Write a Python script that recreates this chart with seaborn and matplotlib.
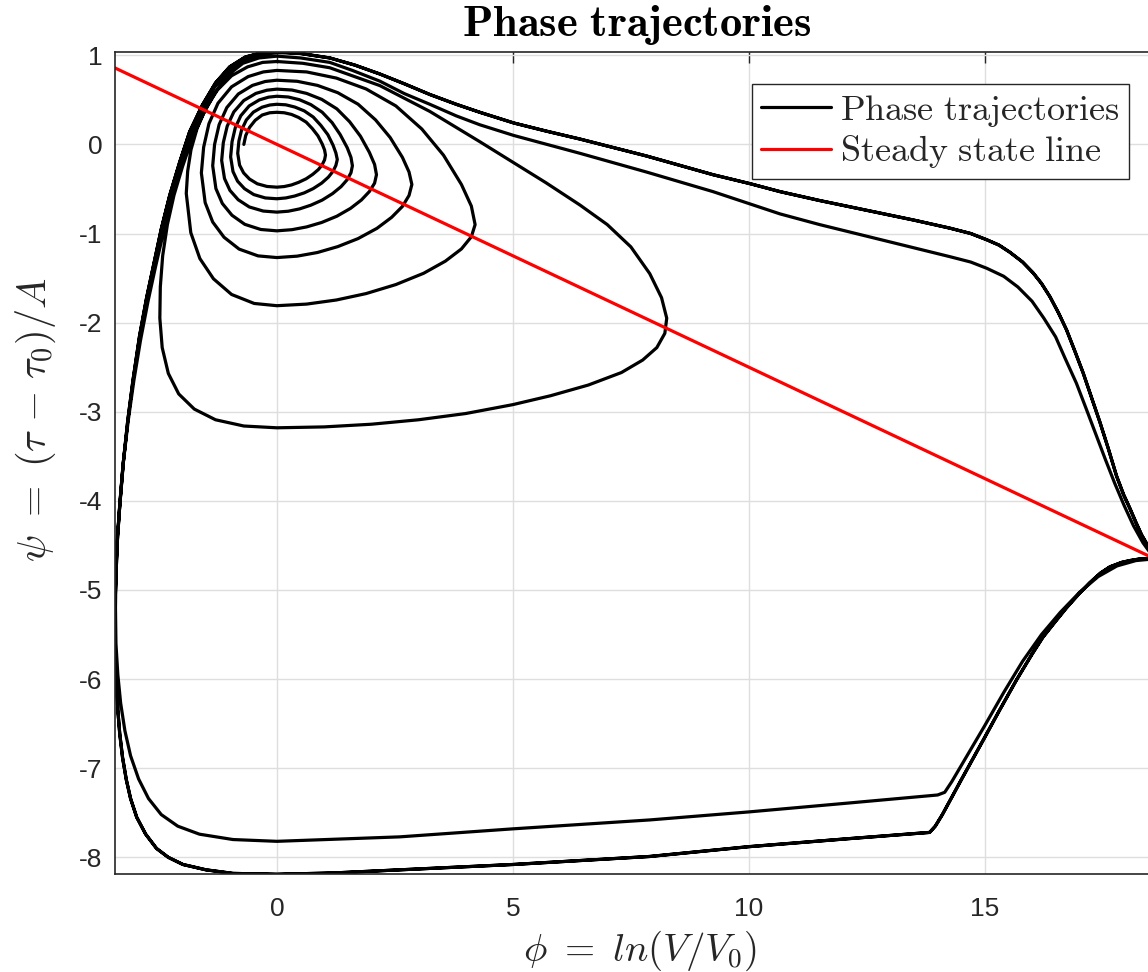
import numpy as np
import pandas as pd
import matplotlib
matplotlib.use("Agg")
import matplotlib.pyplot as plt
import seaborn as sns

# ---------------- data ----------------
# one outward spiral trajectory, listed loop by loop (clockwise)
loop1_phi = [-0.70, -0.66, -0.58, -0.46, -0.31, -0.15, 0.00, 0.155, 0.31, 0.46, 0.62, 0.75, 0.87, 0.96, 1.01, 1.03, 1.01, 0.96, 0.88, 0.76, 0.62, 0.46, 0.31, 0.155, 0.00, -0.21, -0.415, -0.58, -0.705, -0.79, -0.83, -0.805, -0.747, -0.647, -0.498, -0.315, -0.149, 0.00]
loop1_psi = [0.00, 0.10, 0.19, 0.27, 0.33, 0.355, 0.36, 0.355, 0.336, 0.302, 0.25, 0.178, 0.096, 0.005, -0.062, -0.12, -0.174, -0.228, -0.282, -0.336, -0.386, -0.426, -0.455, -0.473, -0.48, -0.472, -0.442, -0.389, -0.32, -0.233, -0.10, 0.0375, 0.164, 0.274, 0.362, 0.417, 0.442, 0.45]

loop2_phi = [0.19, 0.38, 0.58, 0.77, 0.93, 1.08, 1.19, 1.25, 1.28, 1.25, 1.19, 1.09, 0.95, 0.77, 0.58, 0.38, 0.19, 0.00, -0.245, -0.49, -0.686, -0.833, -0.93, -0.98, -0.95, -0.882, -0.764, -0.588, -0.372, -0.176, 0.00]
loop2_psi = [0.444, 0.419, 0.376, 0.307, 0.214, 0.109, -0.009, -0.096, -0.17, -0.236, -0.302, -0.368, -0.434, -0.496, -0.544, -0.579, -0.601, -0.61, -0.601, -0.563, -0.497, -0.413, -0.305, -0.14, 0.03, 0.186, 0.322, 0.431, 0.499, 0.53, 0.54]

loop3_phi = [0.24, 0.48, 0.72, 0.96, 1.17, 1.34, 1.49, 1.57, 1.60, 1.57, 1.49, 1.36, 1.18, 0.96, 0.72, 0.48, 0.24, 0.00, -0.29, -0.585, -0.82, -0.995, -1.11, -1.17, -1.135, -1.053, -0.913, -0.702, -0.445, -0.211, 0.00]
loop3_psi = [0.532, 0.501, 0.446, 0.361, 0.244, 0.111, -0.037, -0.146, -0.24, -0.318, -0.396, -0.474, -0.552, -0.625, -0.682, -0.724, -0.75, -0.76, -0.748, -0.702, -0.621, -0.516, -0.383, -0.18, 0.02, 0.204, 0.364, 0.492, 0.572, 0.608, 0.62]

loop4_phi = [0.32, 0.63, 0.95, 1.27, 1.54, 1.77, 1.96, 2.07, 2.11, 2.07, 1.96, 1.79, 1.56, 1.27, 0.95, 0.63, 0.32, 0.00, -0.34, -0.68, -0.952, -1.156, -1.292, -1.36, -1.32, -1.224, -1.061, -0.816, -0.517, -0.245, 0.00]
loop4_psi = [0.61, 0.572, 0.505, 0.399, 0.255, 0.092, -0.09, -0.225, -0.34, -0.435, -0.529, -0.624, -0.718, -0.806, -0.876, -0.926, -0.957, -0.97, -0.955, -0.897, -0.795, -0.663, -0.496, -0.24, 0.00, 0.221, 0.413, 0.566, 0.662, 0.706, 0.72]

loop5_phi = [0.43, 0.86, 1.29, 1.72, 2.09, 2.40, 2.66, 2.80, 2.86, 2.80, 2.66, 2.43, 2.12, 1.72, 1.29, 0.86, 0.43, 0.00, -0.40, -0.80, -1.12, -1.36, -1.52, -1.60, -1.552, -1.44, -1.248, -0.96, -0.608, -0.288, 0.00]
loop5_psi = [0.708, 0.662, 0.58, 0.451, 0.275, 0.077, -0.146, -0.31, -0.45, -0.573, -0.696, -0.819, -0.942, -1.057, -1.147, -1.213, -1.254, -1.27, -1.251, -1.175, -1.042, -0.871, -0.653, -0.32, -0.032, 0.232, 0.462, 0.646, 0.761, 0.813, 0.83]

loop6_phi = [0.63, 1.26, 1.89, 2.52, 3.07, 3.53, 3.91, 4.12, 4.20, 4.12, 3.91, 3.57, 3.11, 2.52, 1.89, 1.26, 0.63, 0.00, -0.48, -0.96, -1.344, -1.632, -1.824, -1.92, -1.89, -1.82, -1.69, -1.50, -1.26, -0.96, -0.62, -0.30, 0.00]
loop6_psi = [0.813, 0.744, 0.622, 0.432, 0.173, -0.121, -0.45, -0.692, -0.90, -1.037, -1.173, -1.31, -1.446, -1.573, -1.674, -1.746, -1.792, -1.81, -1.785, -1.684, -1.508, -1.281, -0.991, -0.55, -0.30, -0.06, 0.18, 0.41, 0.61, 0.77, 0.87, 0.92, 0.93]

loop7_phi = [0.55, 1.12, 2.18, 3.24, 4.30, 5.00, 5.70, 6.42, 7.00, 7.50, 7.90, 8.15, 8.26, 8.22, 8.05, 7.75, 7.30, 6.60, 5.80, 5.00, 4.00, 3.00, 2.00, 1.00, 0.00, -0.70, -1.30, -1.75, -2.08, -2.30, -2.43, -2.48, -2.47, -2.42, -2.32, -2.18, -2.00, -1.80, -1.57, -1.31, -1.03, -0.72, -0.38, 0.00]
loop7_psi = [0.91, 0.86, 0.66, 0.37, 0.03, -0.20, -0.43, -0.68, -0.90, -1.15, -1.45, -1.72, -1.95, -2.12, -2.28, -2.42, -2.56, -2.70, -2.82, -2.92, -3.02, -3.09, -3.14, -3.17, -3.18, -3.16, -3.09, -2.97, -2.80, -2.57, -2.28, -1.95, -1.60, -1.25, -0.90, -0.57, -0.25, 0.06, 0.33, 0.58, 0.78, 0.91, 0.97, 0.99]

loop8_phi = [0.50, 1.12, 1.60, 2.18, 2.70, 3.24, 3.80, 4.30, 5.02, 6.42, 7.83, 9.24, 10.66, 11.50, 12.50, 13.50, 14.26, 14.70, 15.04, 15.40, 15.70, 16.00, 16.25, 16.50, 16.70, 16.94, 17.15, 17.35, 17.55, 17.75, 17.95, 18.15, 18.35, 18.50, 18.62, 18.62, 18.50, 18.20, 17.80, 17.40, 17.00, 16.60, 16.20, 15.80, 15.40, 15.00, 14.60, 14.30, 14.15, 14.00, 12.12, 10.00, 7.90, 5.00, 2.60, 0.00, -0.93, -1.64, -2.10, -2.45, -2.72, -2.93, -3.10, -3.22, -3.31, -3.37, -3.41, -3.42, -3.41, -3.38, -3.32, -3.25, -3.15, -3.03, -2.89, -2.73, -2.57, -2.40, -2.22, -2.03, -1.83, -1.59, -1.32, -1.02, -0.70, -0.36, 0.00]
loop8_psi = [0.97, 0.92, 0.83, 0.71, 0.57, 0.45, 0.32, 0.22, 0.10, -0.10, -0.31, -0.53, -0.78, -0.90, -1.03, -1.16, -1.26, -1.32, -1.39, -1.48, -1.60, -1.76, -1.95, -2.16, -2.40, -2.68, -2.97, -3.25, -3.53, -3.80, -4.05, -4.28, -4.47, -4.58, -4.63, -4.65, -4.655, -4.67, -4.73, -4.85, -5.03, -5.25, -5.50, -5.80, -6.15, -6.52, -6.88, -7.15, -7.27, -7.30, -7.39, -7.49, -7.58, -7.68, -7.77, -7.82, -7.80, -7.74, -7.65, -7.52, -7.34, -7.12, -6.86, -6.58, -6.27, -5.95, -5.60, -5.20, -4.80, -4.40, -4.00, -3.55, -3.10, -2.65, -2.20, -1.76, -1.37, -0.98, -0.60, -0.24, 0.09, 0.39, 0.64, 0.82, 0.94, 1.00, 1.03]

outer_phi = [0.50, 1.12, 1.65, 2.18, 2.70, 3.24, 3.80, 4.30, 5.02, 5.70, 6.42, 7.83, 9.24, 10.02, 10.66, 11.50, 12.50, 13.50, 14.26, 14.70, 15.04, 15.30, 15.53, 15.80, 16.02, 16.20, 16.38, 16.56, 16.73, 16.90, 17.08, 17.26, 17.44, 17.62, 17.79, 17.94, 18.07, 18.20, 18.32, 18.45, 18.58, 18.69, 18.50, 18.30, 18.07, 17.90, 17.65, 17.45, 17.22, 17.00, 16.73, 16.50, 16.23, 16.00, 15.67, 15.30, 14.96, 14.50, 14.10, 13.95, 13.83, 12.12, 10.00, 7.90, 5.00, 2.60, 1.20, 0.00, -0.93, -1.50, -1.99, -2.30, -2.55, -2.78, -2.97, -3.10, -3.19, -3.27, -3.33, -3.37, -3.40, -3.42, -3.43, -3.425, -3.41, -3.38, -3.33, -3.26, -3.16, -3.05, -2.91, -2.76, -2.62, -2.45, -2.27, -2.06, -1.85, -1.58, -1.30, -1.00, -0.67, -0.34, 0.00]
outer_psi = [1.02, 0.97, 0.89, 0.79, 0.68, 0.56, 0.45, 0.36, 0.24, 0.15, 0.06, -0.13, -0.34, -0.44, -0.53, -0.63, -0.74, -0.85, -0.94, -1.00, -1.07, -1.13, -1.21, -1.32, -1.44, -1.56, -1.71, -1.89, -2.08, -2.31, -2.56, -2.84, -3.12, -3.42, -3.72, -3.93, -4.08, -4.24, -4.38, -4.50, -4.59, -4.635, -4.645, -4.65, -4.67, -4.69, -4.74, -4.81, -4.92, -5.04, -5.20, -5.35, -5.53, -5.72, -6.01, -6.36, -6.69, -7.13, -7.52, -7.65, -7.72, -7.79, -7.88, -7.99, -8.08, -8.14, -8.175, -8.19, -8.18, -8.14, -8.08, -8.00, -7.90, -7.74, -7.55, -7.34, -7.13, -6.88, -6.61, -6.35, -6.05, -5.75, -5.45, -5.10, -4.85, -4.45, -4.05, -3.60, -3.10, -2.65, -2.15, -1.72, -1.37, -0.95, -0.57, -0.20, 0.14, 0.44, 0.69, 0.87, 0.98, 1.025, 1.04]

# steady state line  psi = (1 - B/A) * phi, drawn over the phi range
ss_phi = [-3.43, 18.69]
ss_psi = [0.8575, -4.6725]

x_ticks = [0, 5, 10, 15]
y_ticks = [1, 0, -1, -2, -3, -4, -5, -6, -7, -8]

# ---------------- build the trajectory table ----------------
phi_all = (loop1_phi + loop2_phi + loop3_phi + loop4_phi + loop5_phi + loop6_phi
           + loop7_phi + loop8_phi + outer_phi + outer_phi)
psi_all = (loop1_psi + loop2_psi + loop3_psi + loop4_psi + loop5_psi + loop6_psi
           + loop7_psi + loop8_psi + outer_psi + outer_psi)
traj = pd.DataFrame({"phi": phi_all, "psi": psi_all})
ss = pd.DataFrame({"phi": ss_phi, "psi": ss_psi})

# ---------------- style ----------------
sns.set_theme(style="white")
plt.rcParams["font.family"] = ["Liberation Sans", "DejaVu Sans"]
plt.rcParams["mathtext.fontset"] = "cm"
plt.rcParams["axes.unicode_minus"] = False

W, H = 1148, 972
fig = plt.figure(figsize=(W / 100, H / 100), dpi=100)
ax_l, ax_r, ax_t, ax_b = 115, 1159, 51.7, 874.3
ax = fig.add_axes([ax_l / W, 1 - ax_b / H, (ax_r - ax_l) / W, (ax_b - ax_t) / H])

sns.lineplot(data=traj, x="phi", y="psi", sort=False, estimator=None,
             color="black", linewidth=2.3, ax=ax, label=r"$\mathrm{Phase\ trajectories}$")
sns.lineplot(data=ss, x="phi", y="psi", sort=False, estimator=None,
             color="#ff0000", linewidth=2.3, ax=ax, label=r"$\mathrm{Steady\ state\ line}$")

ax.set_xlim(-3.43, 18.69)
ax.set_ylim(-8.19, 1.04)
ax.set_xticks(x_ticks)
ax.set_yticks(y_ticks)
ax.set_xticklabels([str(v) for v in x_ticks])
ax.set_yticklabels([str(v) for v in y_ticks])
ax.tick_params(direction="in", length=8, width=1.0, top=True, right=True,
               labelsize=19, colors="#262626")
ax.tick_params(axis="x", pad=16)
ax.tick_params(axis="y", pad=9)
ax.grid(True, color="#dedede", linewidth=1.0)
for s in ax.spines.values():
    s.set_color("#262626")
    s.set_linewidth(1.2)

ax.set_xlabel(r"$\phi\ {=}\ ln(V/V_0)$", fontsize=28, color="#262626")
ax.xaxis.set_label_coords((640 - ax_l) / (ax_r - ax_l), (ax_b - 929) / (ax_b - ax_t))
ax.set_ylabel(r"$\psi\ {=}\ (\tau\ {-}\ \tau_0)/A$", fontsize=29, color="#262626")
ax.yaxis.set_label_coords((58 - ax_l) / (ax_r - ax_l), (ax_b - 420) / (ax_b - ax_t))
ax.set_title(r"$\mathbf{Phase\ trajectories}$", fontsize=32, color="black", pad=11)

leg = ax.legend(loc="upper left", bbox_to_anchor=(752 / W, 1 - 84 / H),
                bbox_transform=fig.transFigure, borderaxespad=0, fancybox=False,
                framealpha=1, edgecolor="#262626", fontsize=26, handlelength=1.95,
                handletextpad=0.25, borderpad=0.25, labelspacing=0.12)
leg.get_frame().set_linewidth(1.0)

fig.savefig("out.png", dpi=100)
